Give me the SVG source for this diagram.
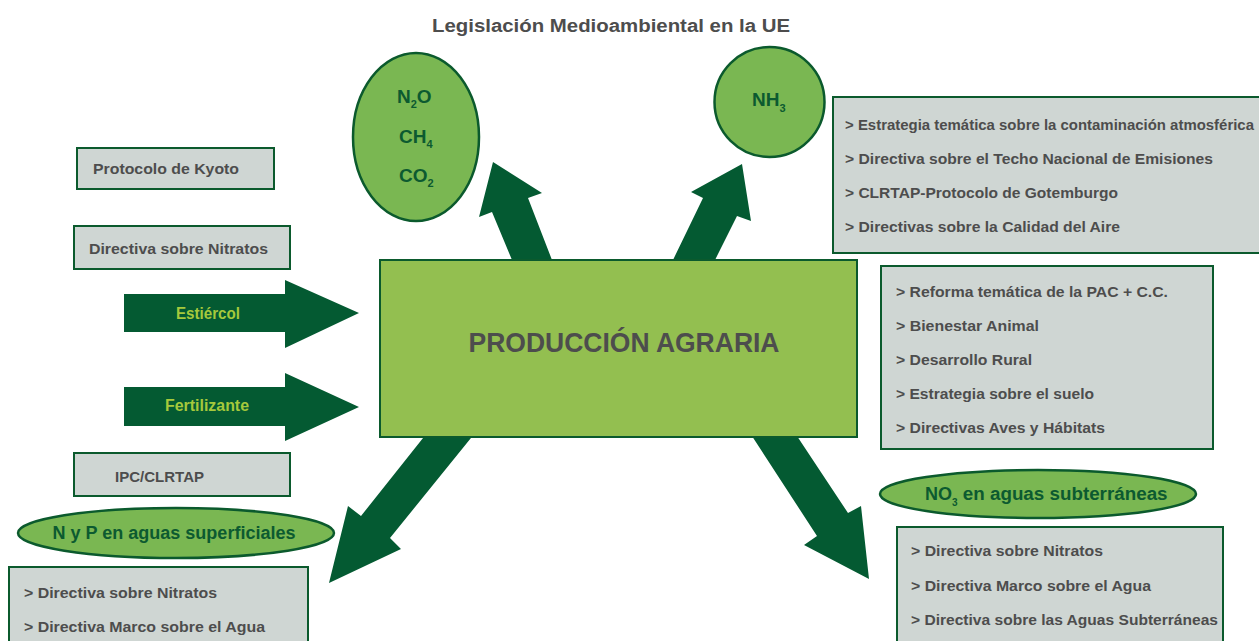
<svg xmlns="http://www.w3.org/2000/svg" width="1259" height="641" viewBox="0 0 1259 641">
<style>
  .t { font-family: "Liberation Sans", Arial, sans-serif; font-weight: bold; }
  .gray { fill: #4d4d4d; }
  .dg { fill: #0c5a30; }
  .box { fill: #cfd6d3; stroke: #0b5a2d; stroke-width: 2; }
  .oval { fill: #7ab752; stroke: #0b5a2d; stroke-width: 2.5; }
  .arr { fill: #045a32; }
  .item { font-size: 15.5px; }
</style>
<rect width="1259" height="641" fill="#ffffff"/>

<text class="t gray" x="611" y="32" font-size="18" text-anchor="middle" textLength="358" lengthAdjust="spacingAndGlyphs">Legislación Medioambiental en la UE</text>

<g id="connectors">
  <polygon class="arr" points="512,260 552,260 528,198 542,193 493,162 479,217 492,212"/>
  <polygon class="arr" points="673,260 703,198 691,192 742,164 751,221 737,216 715,260"/>
  <polygon class="arr" points="427,433 475,433 390,538 401,549 329,583 348,506 361,516"/>
  <polygon class="arr" points="750,433 795,433 848,513 861,506 869,579 804,545 817,536"/>
</g>

<g id="n-gases">
  <ellipse class="oval" cx="416" cy="137" rx="63" ry="84"/>
  <text class="t dg" x="397" y="103" font-size="19">N<tspan font-size="11" dy="5">2</tspan><tspan dy="-5">O</tspan></text>
  <text class="t dg" x="399" y="143" font-size="19">CH<tspan font-size="11" dy="5">4</tspan></text>
  <text class="t dg" x="399" y="182" font-size="19">CO<tspan font-size="11" dy="5">2</tspan></text>
</g>

<g id="n-nh3">
  <circle class="oval" cx="769.5" cy="102" r="55"/>
  <text class="t dg" x="752" y="106" font-size="19">NH<tspan font-size="11" dy="6">3</tspan></text>
</g>

<g id="n-aire">
  <rect class="box" x="833" y="97" width="429" height="156"/>
  <text class="t gray item" x="845" y="130" textLength="409" lengthAdjust="spacingAndGlyphs">&gt; Estrategia temática sobre la contaminación atmosférica</text>
  <text class="t gray item" x="845" y="164" textLength="368" lengthAdjust="spacingAndGlyphs">&gt; Directiva sobre el Techo Nacional de Emisiones</text>
  <text class="t gray item" x="845" y="198" textLength="273" lengthAdjust="spacingAndGlyphs">&gt; CLRTAP-Protocolo de Gotemburgo</text>
  <text class="t gray item" x="845" y="232" textLength="275" lengthAdjust="spacingAndGlyphs">&gt; Directivas sobre la Calidad del Aire</text>
</g>

<g id="n-produccion">
  <rect x="380" y="260" width="477" height="177" fill="#93bf50" stroke="#0b5a2d" stroke-width="2"/>
  <text class="t gray" x="624" y="352" font-size="27" text-anchor="middle" textLength="311" lengthAdjust="spacingAndGlyphs">PRODUCCIÓN AGRARIA</text>
</g>

<g id="n-pac">
  <rect class="box" x="881" y="266" width="332" height="183"/>
  <text class="t gray item" x="896" y="297" textLength="272" lengthAdjust="spacingAndGlyphs">&gt; Reforma temática de la PAC + C.C.</text>
  <text class="t gray item" x="896" y="331" textLength="143" lengthAdjust="spacingAndGlyphs">&gt; Bienestar Animal</text>
  <text class="t gray item" x="896" y="365" textLength="136" lengthAdjust="spacingAndGlyphs">&gt; Desarrollo Rural</text>
  <text class="t gray item" x="896" y="399" textLength="198" lengthAdjust="spacingAndGlyphs">&gt; Estrategia sobre el suelo</text>
  <text class="t gray item" x="896" y="433" textLength="209" lengthAdjust="spacingAndGlyphs">&gt; Directivas Aves y Hábitats</text>
</g>

<g id="n-kyoto">
  <rect class="box" x="77" y="148" width="197" height="41"/>
  <text class="t gray item" x="93" y="174" textLength="146" lengthAdjust="spacingAndGlyphs">Protocolo de Kyoto</text>
</g>

<g id="n-nitratos">
  <rect class="box" x="74" y="226" width="216" height="43"/>
  <text class="t gray item" x="89" y="254" textLength="179" lengthAdjust="spacingAndGlyphs">Directiva sobre Nitratos</text>
</g>

<g id="n-estiercol">
  <polygon class="arr" points="124,294 285,294 285,280 359,313 285,348 285,332 124,332"/>
  <text class="t" x="208" y="319" font-size="16" fill="#a6c93c" text-anchor="middle" textLength="64" lengthAdjust="spacingAndGlyphs">Estiércol</text>
</g>

<g id="n-fertilizante">
  <polygon class="arr" points="124,387 285,387 285,373 359,407 285,441 285,426 124,426"/>
  <text class="t" x="207" y="411" font-size="16" fill="#a6c93c" text-anchor="middle" textLength="84" lengthAdjust="spacingAndGlyphs">Fertilizante</text>
</g>

<g id="n-ipc">
  <rect class="box" x="74" y="453" width="216" height="43"/>
  <text class="t gray item" x="115" y="482" textLength="89" lengthAdjust="spacingAndGlyphs">IPC/CLRTAP</text>
</g>

<g id="n-nyp">
  <ellipse class="oval" cx="176" cy="533" rx="158" ry="25"/>
  <text class="t dg" x="174" y="539" font-size="18" text-anchor="middle" textLength="243" lengthAdjust="spacingAndGlyphs">N y P en aguas superficiales</text>
</g>

<g id="n-aguas-sup">
  <rect class="box" x="9" y="567" width="299" height="90"/>
  <text class="t gray item" x="24" y="598" textLength="193" lengthAdjust="spacingAndGlyphs">&gt; Directiva sobre Nitratos</text>
  <text class="t gray item" x="24" y="632" textLength="241" lengthAdjust="spacingAndGlyphs">&gt; Directiva Marco sobre el Agua</text>
</g>

<g id="n-no3">
  <ellipse class="oval" cx="1038" cy="494" rx="158" ry="24"/>
  <text class="t dg" x="925" y="500" font-size="18">NO<tspan font-size="10" dy="6">3</tspan><tspan dy="-6" textLength="210" lengthAdjust="spacingAndGlyphs">  en aguas subterráneas</tspan></text>
</g>

<g id="n-aguas-sub">
  <rect class="box" x="897" y="527" width="326" height="130"/>
  <text class="t gray item" x="911" y="556" textLength="192" lengthAdjust="spacingAndGlyphs">&gt; Directiva sobre Nitratos</text>
  <text class="t gray item" x="911" y="591" textLength="240" lengthAdjust="spacingAndGlyphs">&gt; Directiva Marco sobre el Agua</text>
  <text class="t gray item" x="911" y="625" textLength="307" lengthAdjust="spacingAndGlyphs">&gt; Directiva sobre las Aguas Subterráneas</text>
</g>
</svg>
